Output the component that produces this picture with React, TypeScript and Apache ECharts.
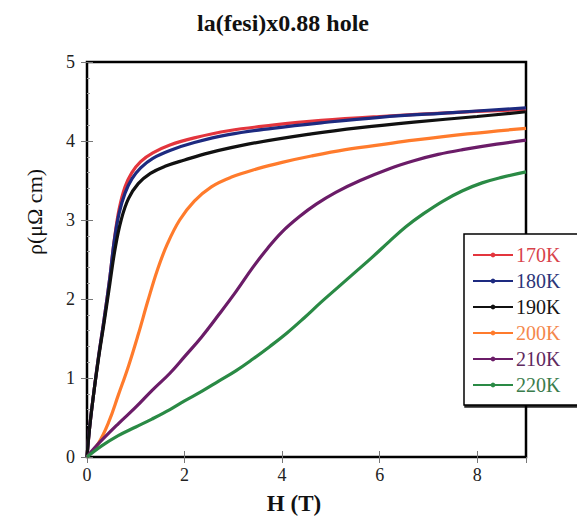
import React, { useEffect, useRef } from "react";
import * as echarts from "echarts";

// Magnetoresistance ρ(H) of La(FeSi) x0.88, hole-doped, at six temperatures.
const temperatures = ["170K", "180K", "190K", "200K", "210K", "220K"];

const lineColors = ["#e3353d", "#1d2a80", "#111111", "#ff7b2c", "#6b1c68", "#2a8a45"];
const labelColors = ["#d8434b", "#2c3679", "#151515", "#f4874c", "#5f2a60", "#3a7c4c"];

// [H (T), ρ (μΩ cm)]
const rho170K: [number, number][] = [
  [0, 0], [0.05, 0.35], [0.12, 0.72], [0.23, 1.24], [0.35, 1.74], [0.47, 2.28],
  [0.56, 2.75], [0.66, 3.14], [0.78, 3.42], [0.92, 3.6], [1.1, 3.74], [1.35, 3.85],
  [1.7, 3.95], [2.2, 4.04], [2.9, 4.13], [3.8, 4.2], [4.8, 4.26], [6.0, 4.31],
  [7.5, 4.36], [9.0, 4.4],
];
const rho180K: [number, number][] = [
  [0, 0], [0.05, 0.35], [0.12, 0.72], [0.23, 1.24], [0.35, 1.74], [0.47, 2.28],
  [0.56, 2.74], [0.66, 3.09], [0.78, 3.34], [0.92, 3.52], [1.1, 3.66], [1.35, 3.78],
  [1.7, 3.88], [2.2, 3.98], [2.9, 4.08], [3.8, 4.16], [4.8, 4.23], [6.0, 4.3],
  [7.5, 4.36], [9.0, 4.42],
];
const rho190K: [number, number][] = [
  [0, 0], [0.05, 0.35], [0.12, 0.72], [0.23, 1.22], [0.35, 1.7], [0.47, 2.2],
  [0.58, 2.65], [0.7, 3.0], [0.85, 3.27], [1.05, 3.46], [1.3, 3.59], [1.6, 3.68],
  [2.0, 3.76], [2.5, 3.85], [3.3, 3.96], [4.6, 4.09], [5.6, 4.17], [6.7, 4.24],
  [8.0, 4.31], [9.0, 4.37],
];
const rho200K: [number, number][] = [
  [0, 0], [0.23, 0.17], [0.45, 0.45], [0.64, 0.78], [0.85, 1.15], [1.05, 1.55],
  [1.25, 1.98], [1.45, 2.38], [1.65, 2.7], [1.9, 3.0], [2.2, 3.24], [2.55, 3.42],
  [2.95, 3.54], [3.5, 3.65], [4.0, 3.73], [4.6, 3.81], [5.3, 3.89], [6.0, 3.95],
  [6.7, 4.01], [7.8, 4.09], [9.0, 4.16],
];
const rho210K: [number, number][] = [
  [0, 0], [0.16, 0.12], [0.64, 0.42], [1.0, 0.63], [1.33, 0.84], [1.7, 1.06],
  [2.0, 1.27], [2.35, 1.52], [2.7, 1.8], [3.05, 2.09], [3.4, 2.4], [3.7, 2.64],
  [4.0, 2.85], [4.35, 3.04], [4.7, 3.2], [5.1, 3.35], [5.6, 3.5], [6.2, 3.65],
  [6.7, 3.75], [7.2, 3.83], [7.7, 3.89], [8.4, 3.96], [9.0, 4.01],
];
const rho220K: [number, number][] = [
  [0, 0], [0.3, 0.14], [0.64, 0.27], [1.0, 0.38], [1.33, 0.48], [1.7, 0.6],
  [2.0, 0.71], [2.35, 0.83], [2.7, 0.96], [3.05, 1.09], [3.4, 1.24], [3.75, 1.4],
  [4.1, 1.57], [4.45, 1.76], [4.8, 1.96], [5.15, 2.15], [5.5, 2.34], [5.85, 2.53],
  [6.2, 2.73], [6.55, 2.92], [6.9, 3.08], [7.3, 3.24], [7.7, 3.37], [8.1, 3.47],
  [8.5, 3.54], [9.0, 3.61],
];

const curves = [rho170K, rho180K, rho190K, rho200K, rho210K, rho220K];

const xTicks = { min: 0, max: 9, interval: 2 };
const yTicks = { min: 0, max: 5, interval: 1 };

const SERIF = "'Liberation Serif', 'DejaVu Serif', serif";

export default function App() {
  const ref = useRef<HTMLDivElement>(null);

  useEffect(() => {
    if (!ref.current) return;
    const chart = echarts.init(ref.current, undefined, { renderer: "svg" });

    const tickStyle = { color: "#777", width: 1 };

    const option = {
      animation: false,
      backgroundColor: "#ffffff",
      grid: {
        left: 87,
        right: 51,
        top: 62,
        bottom: 66,
        show: true,
        borderColor: "#000",
        borderWidth: 2.5,
        backgroundColor: "transparent",
      },
      xAxis: [
        {
          type: "value",
          ...xTicks,
          position: "bottom",
          axisLine: { show: false },
          axisTick: { show: true, inside: true, length: 6, lineStyle: tickStyle },
          splitLine: { show: false },
          axisLabel: {
            showMaxLabel: false,
            margin: 9,
            fontFamily: SERIF,
            fontSize: 18,
            color: "#222",
          },
        },
        {
          type: "value",
          ...xTicks,
          position: "top",
          axisLine: { show: false },
          axisTick: { show: true, inside: true, length: 6, lineStyle: tickStyle },
          splitLine: { show: false },
          axisLabel: { show: false },
        },
      ],
      yAxis: [
        {
          type: "value",
          ...yTicks,
          position: "left",
          axisLine: { show: false },
          axisTick: { show: true, inside: true, length: 6, lineStyle: tickStyle },
          minorTick: { show: true, splitNumber: 5, length: 3, lineStyle: { color: "#999", width: 1 } },
          splitLine: { show: false },
          axisLabel: {
            margin: 12,
            fontFamily: SERIF,
            fontSize: 18,
            color: "#222",
          },
        },
        {
          type: "value",
          ...yTicks,
          position: "right",
          axisLine: { show: false },
          axisTick: { show: true, inside: true, length: 6, lineStyle: tickStyle },
          splitLine: { show: false },
          axisLabel: { show: false },
        },
      ],
      legend: {
        orient: "vertical",
        left: 464,
        top: 234,
        padding: [11, 30, 10, 8],
        itemGap: 6,
        itemWidth: 40,
        itemHeight: 6,
        backgroundColor: "#ffffff",
        borderColor: "#000",
        borderWidth: 1.5,
        borderRadius: 0,
        shadowColor: "rgba(0,0,0,0.85)",
        shadowBlur: 1,
        shadowOffsetX: 1,
        shadowOffsetY: 2,
        lineStyle: { width: 2 },
        textStyle: { fontFamily: SERIF, fontSize: 20, lineHeight: 20, padding: [0, 0, 0, -2] },
        data: temperatures.map((t, i) => ({
          name: t,
          textStyle: { color: labelColors[i] },
        })),
      },
      graphic: [
        {
          type: "text",
          x: 283,
          y: 23,
          style: {
            text: "la(fesi)x0.88 hole",
            fontFamily: SERIF,
            fontWeight: "bold",
            fontSize: 24,
            fill: "#111",
            textAlign: "center",
            textVerticalAlign: "middle",
          },
        },
        {
          type: "text",
          x: 294,
          y: 503,
          style: {
            text: "H (T)",
            fontFamily: SERIF,
            fontWeight: "bold",
            fontSize: 23,
            fill: "#111",
            textAlign: "center",
            textVerticalAlign: "middle",
          },
        },
        {
          type: "text",
          x: 34,
          y: 212,
          rotation: Math.PI / 2,
          style: {
            text: "ρ(μΩ cm)",
            fontFamily: SERIF,
            fontSize: 22,
            fill: "#111",
            textAlign: "center",
            textVerticalAlign: "middle",
          },
        },
      ],
      series: curves.map((pts, i) => ({
        name: temperatures[i],
        type: "line",
        xAxisIndex: 0,
        yAxisIndex: 0,
        data: pts,
        smooth: 0.4,
        symbol: "circle",
        showSymbol: false,
        color: lineColors[i],
        lineStyle: { color: lineColors[i], width: 3.2 },
        itemStyle: { color: lineColors[i] },
      })),
    };

    chart.setOption(option as any);
    return () => chart.dispose();
  }, []);

  return (
    <div
      ref={ref}
      style={{ position: "fixed", left: 0, top: 0, width: 577, height: 523 }}
    />
  );
}
